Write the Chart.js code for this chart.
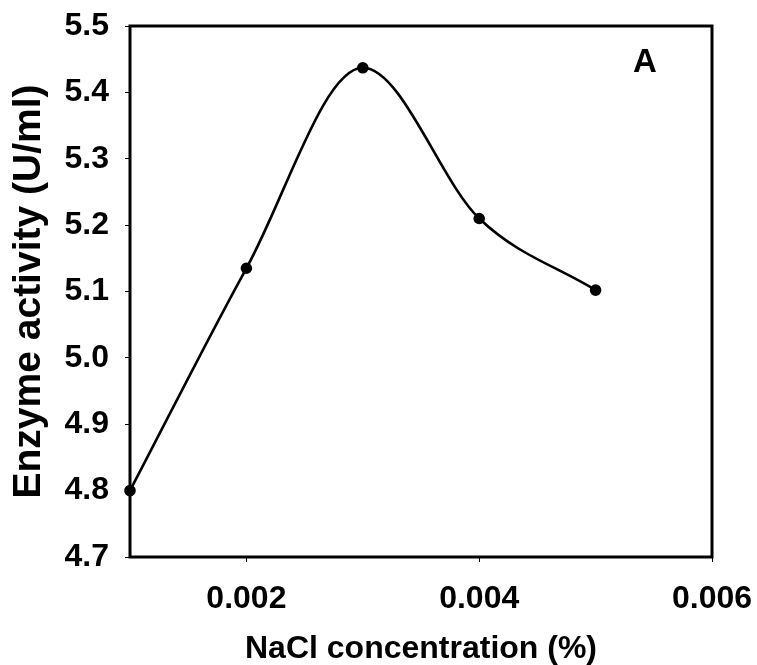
<!DOCTYPE html>
<html>
<head>
<meta charset="utf-8">
<script src="https://cdn.jsdelivr.net/npm/chart.js@4"></script>
<style>
  html, body { margin: 0; padding: 0; background: #fff; }
  #wrap { width: 757px; height: 665px; }
</style>
</head>
<body>
<div id="wrap"><canvas id="enzymeChart" width="757" height="665"></canvas></div>
<script>
// NaCl concentration (%) vs enzyme activity (U/ml)
const nacl = [0.001, 0.002, 0.003, 0.004, 0.005];
const activity = [4.80, 5.135, 5.437, 5.21, 5.102];
const xTicks = [0.002, 0.004, 0.006];
const panelLabel = 'A';

const boxPlugin = {
    id: 'box',
    afterDraw(chart) {
        const a = chart.chartArea;
        const c = chart.ctx;
        c.save();
        c.strokeStyle = '#000';
        c.lineWidth = 3;
        c.strokeRect(a.left, a.top, a.right - a.left, a.bottom - a.top);
        c.font = 'bold 33px "Liberation Sans", Arial, sans-serif';
        c.fillStyle = '#000';
        c.textAlign = 'center';
        c.textBaseline = 'middle';
        c.fillText(panelLabel, a.right - 67, a.top + 37);
        c.restore();
    }
};

const font = { family: '"Liberation Sans", Arial, sans-serif', weight: 'bold', size: 32 };

var ctx = document.getElementById('enzymeChart').getContext('2d');
var chart = new Chart(ctx, {
    type: 'line',
    data: {
        datasets: [{
            data: nacl.map((x, i) => ({ x: x, y: activity[i] })),
            borderColor: '#000',
            backgroundColor: '#000',
            borderWidth: 2.6,
            pointRadius: 4.5,
            pointBackgroundColor: '#000',
            cubicInterpolationMode: 'monotone',
            clip: false
        }]
    },
    options: {
        responsive: false,
        animation: false,
        layout: { padding: { top: 26, right: 45, left: 0, bottom: 0 } },
        plugins: { legend: { display: false }, tooltip: { enabled: false } },
        scales: {
            x: {
                type: 'linear',
                min: 0.001,
                max: 0.006,
                afterBuildTicks: (s) => { s.ticks = xTicks.map(v => ({ value: v })); },
                afterFit: (s) => { s.height = 108; s.paddingLeft = 0; s.paddingRight = 0; },
                border: { display: false },
                grid: { drawOnChartArea: false, color: '#000', tickLength: 5, lineWidth: 1 },
                ticks: { color: '#000', font: font, padding: 18, maxRotation: 0,
                         callback: (v) => v.toFixed(3) },
                title: { display: true, text: 'NaCl concentration (%)', color: '#000',
                         font: { family: font.family, weight: 'bold', size: 32, lineHeight: 1 },
                         padding: { top: 0, bottom: 0 } }
            },
            y: {
                min: 4.7,
                max: 5.5,
                afterFit: (s) => { s.width = 130; s.paddingTop = 0; s.paddingBottom = 0; },
                border: { display: false },
                grid: { drawOnChartArea: false, color: '#000', tickLength: 5, lineWidth: 1 },
                ticks: { color: '#000', font: font, stepSize: 0.1, padding: 16,
                         callback: (v) => v.toFixed(1) },
                title: { display: true, text: 'Enzyme activity (U/ml)', color: '#000',
                         font: { family: font.family, weight: 'bold', size: 39, lineHeight: 1 },
                         padding: { top: 10, bottom: 0 } }
            }
        }
    },
    plugins: [boxPlugin]
});
</script>
</body>
</html>
